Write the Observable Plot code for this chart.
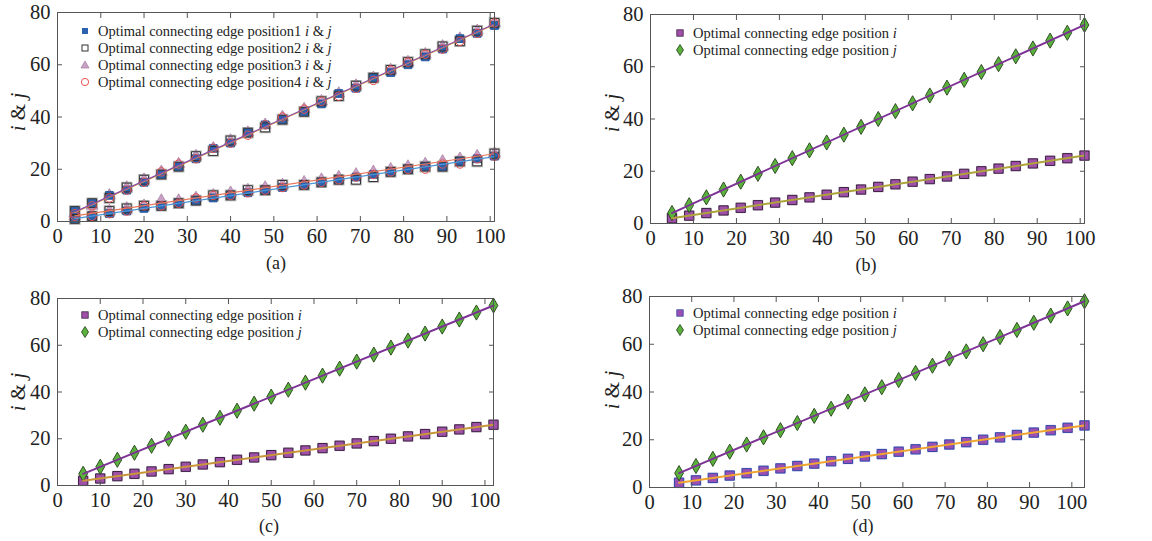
<!DOCTYPE html>
<html>
<head>
<meta charset="utf-8">
<script src="https://cdn.jsdelivr.net/npm/d3@7"></script>
<script src="https://cdn.jsdelivr.net/npm/@observablehq/plot@0.6"></script>
<style>
  html, body { margin: 0; padding: 0; background: #fff; }
  #root { position: relative; width: 1152px; height: 541px; overflow: hidden; background: #fff;
          font-family: "Liberation Serif", "Times New Roman", serif; color: #222; }
  .panel { position: absolute; }
  .cap { position: absolute; font-size: 18px; transform: translateX(-50%); line-height: 1; }
  .ylab { position: absolute; font-size: 21px; transform: translate(-50%, -50%) rotate(-90deg); white-space: nowrap; line-height: 1; }
  .leg { position: absolute; font-size: 14.5px; line-height: 17px; white-space: nowrap; }
  .leg .row { position: relative; height: 17px; }
  .leg svg { position: absolute; top: 2px; }
  .leg span.t { position: absolute; }
  i { font-style: italic; }
</style>
</head>
<body>
<div id="root"></div>
<script>
// ---------------- data ----------------
const xTicks = [0, 10, 20, 30, 40, 50, 60, 70, 80, 90, 100];
const yTicks = [0, 20, 40, 60, 80];

// panel (a): four positions
const xA = [4, 8, 12, 16, 20, 24, 28, 32, 36, 40, 44, 48, 52, 57, 61, 65, 69, 73, 77, 81, 85, 89, 93, 97, 101];
const a1_i = [1, 2, 3, 4, 5, 6, 7, 8, 9, 10, 11, 12, 13, 14, 15, 16, 17, 18, 19, 20, 21, 21, 23, 24, 25];
const a1_j = [4, 7, 10, 12, 15, 18, 21, 24, 28, 30, 34, 37, 39, 42, 45, 49, 51, 55, 57, 60, 63, 66, 70, 72, 75];
const a2_i = [1, 2, 4, 5, 6, 6, 7, 8, 10, 10, 12, 12, 14, 14, 15, 16, 16, 17, 19, 20, 21, 21, 23, 23, 26];
const a2_j = [4, 7, 9, 13, 16, 18, 21, 25, 27, 31, 34, 36, 39, 42, 46, 48, 52, 55, 58, 61, 64, 67, 69, 73, 76];
const a3_i = [2, 3, 4, 5, 6, 8, 8, 9, 10, 11, 12, 13, 14, 15, 16, 17, 18, 19, 20, 21, 22, 23, 24, 25, 26];
const a3_j = [3, 6, 10, 13, 16, 19, 22, 25, 28, 31, 34, 37, 40, 43, 46, 49, 52, 55, 58, 61, 64, 67, 70, 73, 76];
const a4_i = [2, 2, 3, 4, 6, 6, 7, 9, 10, 10, 11, 12, 13, 14, 15, 16, 17, 18, 19, 20, 20, 22, 22, 24, 25];
const a4_j = [3, 6, 9, 12, 15, 19, 22, 24, 28, 30, 33, 37, 40, 43, 46, 48, 51, 54, 58, 61, 64, 66, 69, 72, 76];

// panels (b), (c), (d)
const xB = [5, 9, 13, 17, 21, 25, 29, 33, 37, 41, 45, 49, 53, 57, 61, 65, 69, 73, 77, 81, 85, 89, 93, 97, 101];
const iB = [2, 3, 4, 5, 6, 7, 8, 9, 10, 11, 12, 13, 14, 15, 16, 17, 18, 19, 20, 21, 22, 23, 24, 25, 26];
const jB = [4, 7, 10, 13, 16, 19, 22, 25, 28, 31, 34, 37, 40, 43, 46, 49, 52, 55, 58, 61, 64, 67, 70, 73, 76];
const xC = [6, 10, 14, 18, 22, 26, 30, 34, 38, 42, 46, 50, 54, 58, 62, 66, 70, 74, 78, 82, 86, 90, 94, 98, 102];
const iC = [2, 3, 4, 5, 6, 7, 8, 9, 10, 11, 12, 13, 14, 15, 16, 17, 18, 19, 20, 21, 22, 23, 24, 25, 26];
const jC = [5, 8, 11, 14, 17, 20, 23, 26, 29, 32, 35, 38, 41, 44, 47, 50, 53, 56, 59, 62, 65, 68, 71, 74, 77];
const xD = [7, 11, 15, 19, 23, 27, 31, 35, 39, 43, 47, 51, 55, 59, 63, 67, 71, 75, 79, 83, 87, 91, 95, 99, 103];
const iD = [2, 3, 4, 5, 6, 7, 8, 9, 10, 11, 12, 13, 14, 15, 16, 17, 18, 19, 20, 21, 22, 23, 24, 25, 26];
const jD = [6, 9, 12, 15, 18, 21, 24, 27, 30, 33, 36, 39, 42, 45, 48, 51, 54, 57, 60, 63, 66, 69, 72, 75, 78];

const legA = ["Optimal connecting edge position1", "Optimal connecting edge position2",
              "Optimal connecting edge position3", "Optimal connecting edge position4"];
const legI = "Optimal connecting edge position";
const captions = ["(a)", "(b)", "(c)", "(d)"];

// ---------------- helpers ----------------
const rows = (xs, ys) => xs.map((x, k) => ({x, y: ys[k]}));
const root = document.getElementById("root");

function frameMarks() {
  return [
    Plot.frame({stroke: "#555", strokeWidth: 1}),
    Plot.axisX(xTicks, {anchor: "bottom", tickSize: 0, tickPadding: 7, label: null, fill: "#222"}),
    Plot.axisX(xTicks, {anchor: "bottom", tickSize: -5, tickFormat: () => "", label: null, stroke: "#555"}),
    Plot.axisX(xTicks, {anchor: "top", tickSize: -5, tickFormat: () => "", label: null, stroke: "#555"}),
    Plot.axisY(yTicks, {anchor: "left", tickSize: 0, tickPadding: 7, label: null, fill: "#222"}),
    Plot.axisY(yTicks, {anchor: "left", tickSize: -5, tickFormat: () => "", label: null, stroke: "#555"}),
    Plot.axisY(yTicks, {anchor: "right", tickSize: -5, tickFormat: () => "", label: null, stroke: "#555"})
  ];
}

function makePlot({xMax, width, height, m, marks}) {
  return Plot.plot({
    width, height,
    marginLeft: m[0], marginRight: m[1], marginTop: m[2], marginBottom: m[3],
    x: {domain: [0, xMax]},
    y: {domain: [0, 80]},
    style: {fontFamily: "'Liberation Serif', 'Times New Roman', serif", fontSize: "20.5px", color: "#222", background: "transparent", overflow: "visible"},
    marks: [...marks, ...frameMarks()]
  });
}

function place(el, left, top, cls = "panel") {
  const d = document.createElement("div");
  d.className = cls;
  d.style.left = left + "px";
  d.style.top = top + "px";
  d.appendChild(el);
  root.appendChild(d);
  return d;
}
function html(str, left, top, cls) {
  const d = document.createElement("div");
  d.className = cls;
  d.style.left = left + "px";
  d.style.top = top + "px";
  d.innerHTML = str;
  root.appendChild(d);
}

// ---------------- panel (a) ----------------
const A1i = rows(xA, a1_i), A1j = rows(xA, a1_j);
const A2i = rows(xA, a2_i), A2j = rows(xA, a2_j);
const A3i = rows(xA, a3_i), A3j = rows(xA, a3_j);
const A4i = rows(xA, a4_i), A4j = rows(xA, a4_j);
const s1 = {x: "x", y: "y", symbol: "square", r: 4.4, fill: "#2a62b0", stroke: "#1d4f95", strokeWidth: 0.8};
const s2h = {x: "x", y: "y", symbol: "square", r: 5.6, fill: "none", stroke: "#b0b0b0", strokeWidth: 1.6};
const s2 = {x: "x", y: "y", symbol: "square", r: 5, fill: "none", stroke: "#333", strokeWidth: 1};
const s3 = {x: "x", y: "y", symbol: "triangle", r: 4.4, fill: "#c9a0c6", stroke: "#a985a6", strokeWidth: 0.8};
const s4 = {x: "x", y: "y", symbol: "circle", r: 4.2, fill: "none", stroke: "#e8504f", strokeWidth: 1};
const pa = makePlot({
  xMax: 101, width: 510, height: 250, m: [57, 16, 12, 29],
  marks: [
    Plot.dot(A2i, s2h), Plot.dot(A2j, s2h),
    Plot.dot(A3i, s3), Plot.dot(A3j, s3),
    Plot.dot(A1i, s1), Plot.dot(A1j, s1),
    Plot.dot(A2i, s2), Plot.dot(A2j, s2),
    Plot.dot(A4i, s4), Plot.dot(A4j, s4),
    Plot.linearRegressionY(A4j, {x: "x", y: "y", stroke: "#eaa83a", strokeWidth: 1.2, ci: 0}),
    Plot.linearRegressionY(A2j, {x: "x", y: "y", stroke: "#8a4fa8", strokeWidth: 1.2, ci: 0}),
    Plot.linearRegressionY(A3i, {x: "x", y: "y", stroke: "#e8765a", strokeWidth: 1.2, ci: 0}),
    Plot.linearRegressionY(A1i, {x: "x", y: "y", stroke: "#4b95d5", strokeWidth: 1.2, ci: 0})
  ]
});
place(pa, 0, 0);

// ---------------- panels (b)(c)(d) ----------------
function ijPanel({xs, is, js, xMax, left, top, width, m, sqFill, sqStroke, sqHalo, iLine}) {
  const I = rows(xs, is), J = rows(xs, js);
  const p = makePlot({
    xMax, width, height: 250, m,
    marks: [
      Plot.dot(I, {x: "x", y: "y", symbol: "square", r: 6.1, fill: sqHalo, stroke: "none"}),
      Plot.dot(I, {x: "x", y: "y", symbol: "square", r: 5.2, fill: sqFill, stroke: sqStroke, strokeWidth: 1}),
      Plot.dot(J, {x: "x", y: "y", symbol: "diamond", r: 4.6, fill: "#5ab23c", stroke: "#243f18", strokeWidth: 0.9}),
      Plot.linearRegressionY(J, {x: "x", y: "y", stroke: "#7d3396", strokeWidth: 2, ci: 0}),
      Plot.linearRegressionY(I, {x: "x", y: "y", stroke: iLine, strokeWidth: 2, ci: 0})
    ]
  });
  place(p, left, top);
}
ijPanel({xs: xB, is: iB, js: jB, xMax: 101, left: 576, top: 0, width: 530, m: [74, 22, 14, 27],
         sqFill: "#a050a8", sqStroke: "#3c2244", sqHalo: "#cfc8d2", iLine: "#ada33a"});
ijPanel({xs: xC, is: iC, js: jC, xMax: 102, left: 0, top: 270, width: 510, m: [57, 17, 28, 35],
         sqFill: "#a050a8", sqStroke: "#3c2244", sqHalo: "#cfc8d2", iLine: "#c9953a"});
ijPanel({xs: xD, is: iD, js: jD, xMax: 103, left: 576, top: 270, width: 530, m: [73, 22, 26, 33],
         sqFill: "#9a50b2", sqStroke: "#3548a8", sqHalo: "#bcc4ee", iLine: "#f0a530"});

// ---------------- text overlays ----------------
const ylabel = "<i>i</i> &amp; <i>j</i>";
html(ylabel, 18, 112, "ylab");
html(ylabel, 612, 113, "ylab");
html(ylabel, 18, 392, "ylab");
html(ylabel, 612, 390, "ylab");

html(captions[0], 276, 254, "cap");
html(captions[1], 866, 256, "cap");
html(captions[2], 269, 517, "cap");
html(captions[3], 863, 517, "cap");

const mk = {
  sqA: '<svg width="10" height="12" viewBox="-5 -6 10 12"><rect x="-3" y="-3" width="6" height="6" fill="#2a62b0"/></svg>',
  opA: '<svg width="10" height="12" viewBox="-5 -6 10 12"><rect x="-3" y="-3" width="6" height="6" fill="none" stroke="#333" stroke-width="1"/></svg>',
  trA: '<svg width="10" height="12" viewBox="-5 -6 10 12"><path d="M0,-4L4,3L-4,3Z" fill="#c9a0c6" stroke="#a985a6" stroke-width="0.8"/></svg>',
  ciA: '<svg width="10" height="12" viewBox="-5 -6 10 12"><circle r="3.6" fill="none" stroke="#e8504f" stroke-width="1"/></svg>',
  sq: (f, s) => `<svg width="10" height="12" viewBox="-5 -6 10 12"><rect x="-3.2" y="-3.2" width="6.4" height="6.4" fill="${f}" stroke="${s}" stroke-width="0.8"/></svg>`,
  di: '<svg width="10" height="12" viewBox="-5 -6 10 12"><path d="M0,-5.5L3.5,0L0,5.5L-3.5,0Z" fill="#5ab23c" stroke="#243f18" stroke-width="0.8"/></svg>'
};
function legend(left, top, items) {
  const rowsHtml = items.map(([sym, txt]) =>
    `<div class="row">${sym.replace('<svg', '<svg style="left:-5px"')}<span class="t" style="left:13px">${txt}</span></div>`).join("");
  html(rowsHtml, left, top, "leg");
}
legend(85, 23, [
  [mk.sqA, legA[0] + " <i>i</i> &amp; <i>j</i>"],
  [mk.opA, legA[1] + " <i>i</i> &amp; <i>j</i>"],
  [mk.trA, legA[2] + " <i>i</i> &amp; <i>j</i>"],
  [mk.ciA, legA[3] + " <i>i</i> &amp; <i>j</i>"]
]);
legend(680, 25, [[mk.sq("#a050a8", "#3c2244"), legI + " <i>i</i>"], [mk.di, legI + " <i>j</i>"]]);
legend(85, 307, [[mk.sq("#a050a8", "#3c2244"), legI + " <i>i</i>"], [mk.di, legI + " <i>j</i>"]]);
legend(680, 305, [[mk.sq("#9a50b2", "#3548a8"), legI + " <i>i</i>"], [mk.di, legI + " <i>j</i>"]]);
</script>
</body>
</html>
